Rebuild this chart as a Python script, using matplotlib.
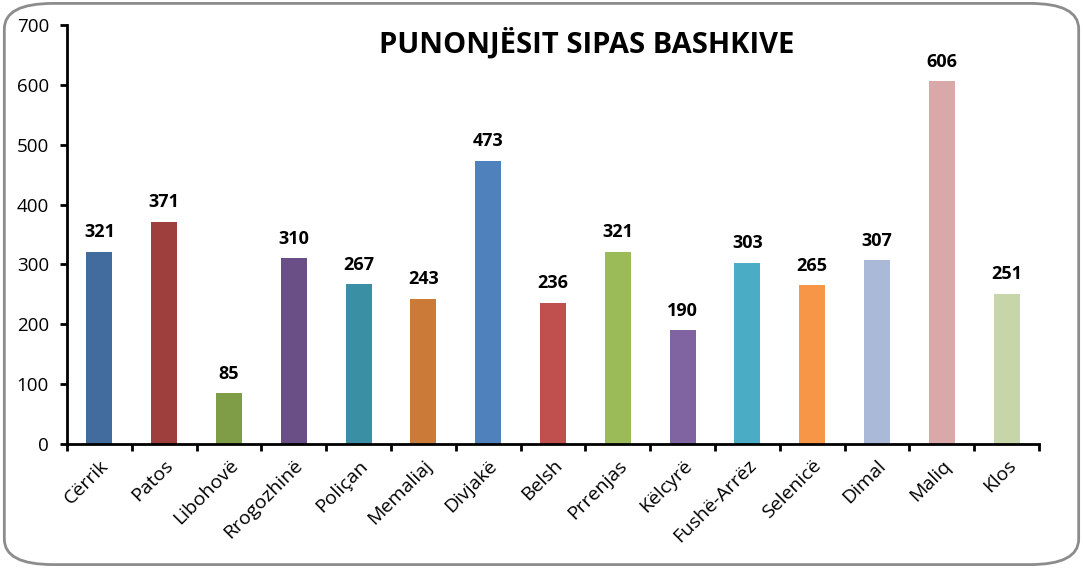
import matplotlib
matplotlib.use("Agg")
import matplotlib.pyplot as plt
from matplotlib.patches import FancyBboxPatch

categories = ["Cërrik", "Patos", "Libohovë", "Rrogozhinë", "Poliçan", "Memaliaj",
              "Divjakë", "Belsh", "Prrenjas", "Këlcyrë", "Fushë-Arrëz", "Selenicë",
              "Dimal", "Maliq", "Klos"]
values = [321, 371, 85, 310, 267, 243, 473, 236, 321, 190, 303, 265, 307, 606, 251]
colors = ["#426B9E", "#9E3F3D", "#7F9C47", "#6A4F86", "#3A8FA5", "#CC7A38",
          "#4F81BD", "#C0504D", "#9BBB59", "#8064A2", "#4BACC6", "#F79646",
          "#A9B9D7", "#D9A9A9", "#C6D6A9"]
yticks = [0, 100, 200, 300, 400, 500, 600, 700]
title = "PUNONJËSIT SIPAS BASHKIVE"

plt.rcParams['font.family'] = ['Open Sans', 'DejaVu Sans']

fig = plt.figure(figsize=(10.83, 5.68), dpi=100)
border = FancyBboxPatch((0.004, 0.006), 0.992, 0.988, boxstyle="round,pad=0,rounding_size=0.045",
                        transform=fig.transFigure, facecolor="none", edgecolor="#8C8C8C",
                        linewidth=2, mutation_aspect=568/1083 * 1.9, zorder=10)
fig.patches.append(border)

ax = fig.add_axes([0.0619, 0.2183, 0.8975, 0.7377])
ax.set_facecolor("none")
x = list(range(len(categories)))
ax.bar(x, values, width=0.4, color=colors)
ax.set_xlim(-0.5, len(categories) - 0.5)
ax.set_ylim(0, 700)
ax.set_yticks(yticks)
ax.set_xticks([i - 0.5 for i in range(len(categories) + 1)], minor=False)
ax.set_xticklabels([""] * (len(categories) + 1))
ax.set_xticks(x, minor=True)
ax.set_xticklabels(categories, minor=True, rotation=45, ha="right", rotation_mode="anchor", fontsize=14)
ax.tick_params(axis="x", which="minor", length=0, pad=9)
ax.tick_params(axis="x", which="major", length=5, width=2, direction="out")
ax.tick_params(axis="y", length=5, width=2, direction="out", labelsize=13.5, pad=8)
for s in ["top", "right"]:
    ax.spines[s].set_visible(False)
for s in ["left", "bottom"]:
    ax.spines[s].set_linewidth(2)

for xi, v in zip(x, values):
    ax.annotate(str(v), (xi, v), xytext=(0, 10.5), textcoords="offset points",
                ha="center", va="baseline", fontsize=13, fontweight="bold")

fig.text(0.542, 0.922, title, ha="center", va="center", fontsize=21, fontweight="bold")

fig.savefig("out.png", dpi=100)
